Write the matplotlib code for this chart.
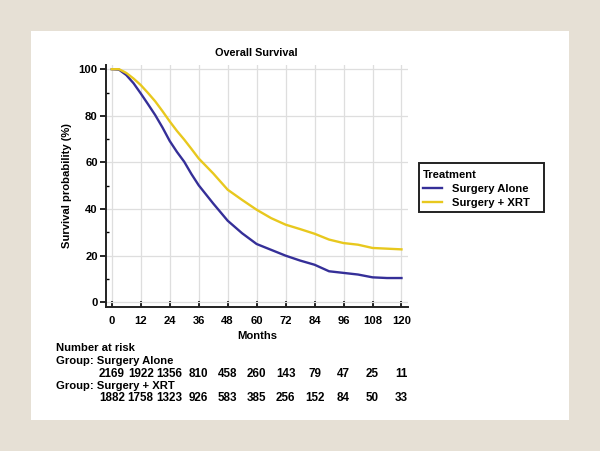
import matplotlib
matplotlib.use("Agg")
import matplotlib.pyplot as plt
import matplotlib.patches as patches
from matplotlib.transforms import blended_transform_factory

plt.rcParams['font.family'] = ['Liberation Sans', 'DejaVu Sans']
plt.rcParams['font.weight'] = 'bold'

""" Curves read off the picture """
months = [0, 3, 6, 9, 12, 15, 18, 21, 24, 27, 30, 33, 36, 42, 48, 54, 60,
          66, 72, 78, 84, 90, 96, 102, 108, 114, 120]
surgery_alone = [100, 99.8, 97.5, 94, 89.6, 85, 80.3, 75, 69.2, 64.5, 60.3, 55,
                 50.2, 42.4, 35.0, 29.6, 25.0, 22.5, 20.0, 17.9, 16.1, 13.3,
                 12.6, 11.9, 10.7, 10.4, 10.4]
surgery_xrt = [100, 100, 98.4, 96, 93.2, 89.8, 86.2, 82, 77.6, 73.5, 69.8, 65.8,
               61.7, 55.3, 48.3, 43.9, 39.7, 36.1, 33.3, 31.4, 29.4, 26.9,
               25.4, 24.7, 23.3, 23.0, 22.7]

""" Number at risk table """
risk_months = [0, 12, 24, 36, 48, 60, 72, 84, 96, 108, 120]
risk_alone = [2169, 1922, 1356, 810, 458, 260, 143, 79, 47, 25, 11]
risk_xrt = [1882, 1758, 1323, 926, 583, 385, 256, 152, 84, 50, 33]

BLUE = "#352f98"
YELLOW = "#e8c81e"
W, H = 600, 451
FS = 8.1


def fx(px):
    return px / W


def fy(py):
    return 1 - py / H


fig = plt.figure(figsize=(6, 4.51), dpi=100)
fig.patch.set_facecolor("#e6e0d5")
fig.patches.append(patches.Rectangle((fx(31), fy(420)), fx(569) - fx(31), fy(31) - fy(420),
                                     transform=fig.transFigure, facecolor="white",
                                     edgecolor="none", zorder=-10))

ax = fig.add_axes([fx(105.5), fy(306.7), fx(408) - fx(105.5), fy(65) - fy(306.7)])
ax.set_zorder(1)
ax.set_facecolor("none")
ax.plot(months, surgery_alone, color=BLUE, lw=1.7, label="Surgery Alone")
ax.plot(months, surgery_xrt, color=YELLOW, lw=1.7, label="Surgery + XRT")

ax.set_xlim(-2.6, 122.7)
ax.set_ylim(-1.9, 101.8)
ax.set_xticks(risk_months)
ax.set_yticks([0, 20, 40, 60, 80, 100])
ax.set_yticks([10, 30, 50, 70, 90], minor=True)
ax.grid(True, which="major", color="#dedede", lw=0.9)
ax.set_axisbelow(True)
for s in ["top", "right"]:
    ax.spines[s].set_visible(False)
for s in ["left", "bottom"]:
    ax.spines[s].set_linewidth(1.4)
    ax.spines[s].set_color("#222222")
ax.tick_params(axis="x", direction="in", length=4, width=1.2, pad=7, labelsize=FS)
ax.tick_params(axis="y", which="major", direction="out", length=4, width=1.2, pad=1.5,
               labelsize=FS)
ax.tick_params(axis="y", which="minor", direction="in", length=2.5, width=1)

ax.set_xlabel("Months", fontsize=FS, fontweight="bold")
ax.xaxis.set_label_coords(0.5, -0.10)
ax.set_ylabel("Survival probability (%)", fontsize=FS, fontweight="bold")
ax.yaxis.set_label_coords(-0.112, 0.5)

fig.text(fx(256.7), fy(52.7), "Overall Survival", ha="center", va="center",
         fontsize=7.8, fontweight="bold")

# legend box is wider than its text, so the frame is drawn separately
ax.add_patch(patches.Rectangle((fx(419), fy(211.7)), fx(544) - fx(419),
                               fy(163.3) - fy(211.7), transform=fig.transFigure,
                               facecolor="white", edgecolor="#222222", lw=1.4,
                               zorder=4, clip_on=False))
leg = ax.legend(title="Treatment", loc="upper left", bbox_to_anchor=(fx(421), fy(167.5)),
                bbox_transform=fig.transFigure, frameon=False, fontsize=FS,
                title_fontsize=FS, alignment="left", handlelength=1.7,
                handletextpad=0.9, borderpad=0.2, labelspacing=0.36, borderaxespad=0)
leg.set_zorder(6)
leg.get_title().set_fontweight("bold")
for t in leg.get_texts():
    t.set_fontweight("bold")

# number at risk block
fig.text(fx(56), fy(348), "Number at risk", ha="left", va="center", fontsize=FS)
fig.text(fx(56), fy(361), "Group: Surgery Alone", ha="left", va="center", fontsize=FS)
fig.text(fx(56), fy(386), "Group: Surgery + XRT", ha="left", va="center", fontsize=FS)
trans = blended_transform_factory(ax.transData, fig.transFigure)
for m, a, b in zip(risk_months, risk_alone, risk_xrt):
    ax.text(m, fy(374.3), str(a), transform=trans, ha="center", va="center",
            fontsize=8.4, clip_on=False)
    ax.text(m, fy(398.3), str(b), transform=trans, ha="center", va="center",
            fontsize=8.4, clip_on=False)

fig.savefig("out.png", dpi=100, facecolor=fig.get_facecolor())
